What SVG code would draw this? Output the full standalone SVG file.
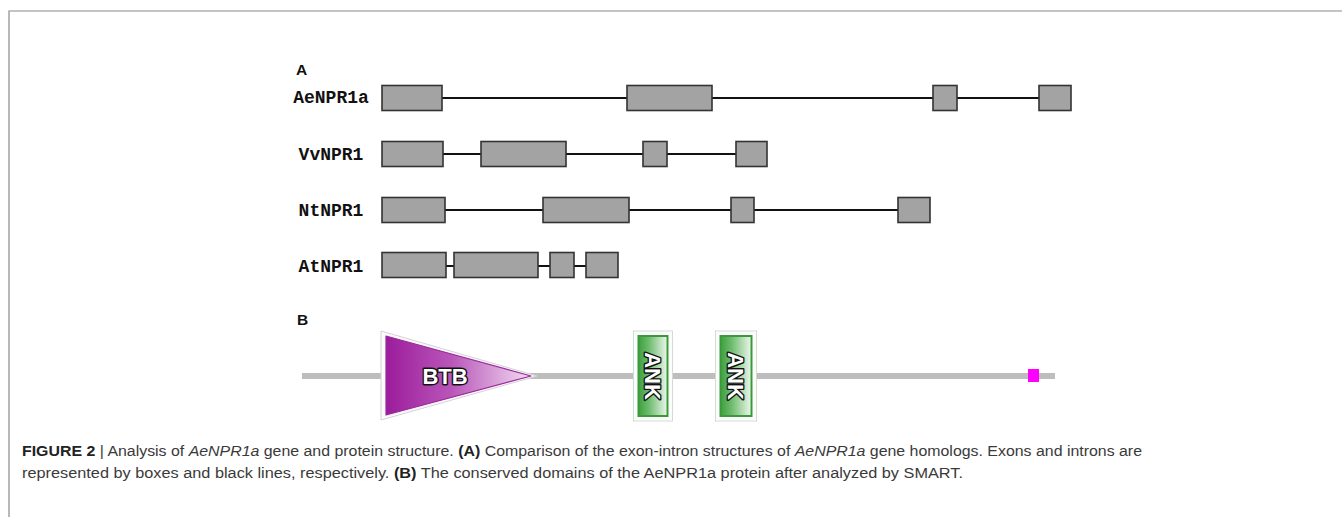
<svg xmlns="http://www.w3.org/2000/svg" width="1342" height="517" viewBox="0 0 1342 517">
  <style>
    .panel { font-family: "Liberation Sans", Arial, sans-serif; font-weight: bold; font-size: 15.5px; fill: #111; }
    .gene { font-family: "Liberation Mono", "Courier New", monospace; font-weight: bold; font-size: 18px; fill: #111; text-anchor: middle; }
    .exon { fill: #a3a3a3; stroke: #333; stroke-width: 1.6; }
    .intron { stroke: #111; stroke-width: 2; fill: none; }
    .dom { font-family: "Liberation Sans", Arial, sans-serif; font-weight: bold; font-size: 22px; fill: #fff; stroke: #111; stroke-width: 2.8; paint-order: stroke; stroke-linejoin: round; text-anchor: middle; }
    .cap { font-family: "Liberation Sans", Arial, sans-serif; font-size: 15.5px; fill: #3a3a3a; }
    .frame { stroke: #8a8a8a; stroke-width: 1.2; fill: none; }
  </style>
  <defs>
    <linearGradient id="btbFill" x1="0" y1="0" x2="1" y2="0">
      <stop offset="0" stop-color="#9c1c9c"/>
      <stop offset="0.45" stop-color="#b956b9"/>
      <stop offset="1" stop-color="#f1dcf1"/>
    </linearGradient>
    <linearGradient id="ankFill" x1="0" y1="0" x2="1" y2="0">
      <stop offset="0" stop-color="#3f9f3f"/>
      <stop offset="0.35" stop-color="#6cbb6c"/>
      <stop offset="1" stop-color="#eef7ee"/>
    </linearGradient>
  </defs>

  <rect width="1342" height="517" fill="#fff"/>
  <!-- frame: top rule and left rule -->
  <path class="frame" d="M9 517 V11 H1342"/>

  <!-- panel A: exon-intron structures -->
  <text class="panel" x="296" y="74.5">A</text>

  <g id="connectors">
    <line class="intron" x1="442" y1="98" x2="627" y2="98"/>
    <line class="intron" x1="712" y1="98" x2="933" y2="98"/>
    <line class="intron" x1="957" y1="98" x2="1039" y2="98"/>

    <line class="intron" x1="443" y1="154" x2="481" y2="154"/>
    <line class="intron" x1="566" y1="154" x2="643" y2="154"/>
    <line class="intron" x1="667" y1="154" x2="736" y2="154"/>

    <line class="intron" x1="445" y1="210" x2="543" y2="210"/>
    <line class="intron" x1="629" y1="210" x2="731" y2="210"/>
    <line class="intron" x1="754" y1="210" x2="898" y2="210"/>

    <line class="intron" x1="446" y1="266" x2="454" y2="266"/>
    <line class="intron" x1="538" y1="266" x2="550" y2="266"/>
    <line class="intron" x1="574" y1="266" x2="586" y2="266"/>
  </g>

  <g id="AeNPR1a">
    <text class="gene" x="331" y="103">AeNPR1a</text>
    <rect class="exon" x="382" y="85.5" width="60" height="25"/>
    <rect class="exon" x="627" y="85.5" width="85" height="25"/>
    <rect class="exon" x="933" y="85.5" width="24" height="25"/>
    <rect class="exon" x="1039" y="85.5" width="32" height="25"/>
  </g>

  <g id="VvNPR1">
    <text class="gene" x="331" y="160">VvNPR1</text>
    <rect class="exon" x="382" y="141.5" width="61" height="25"/>
    <rect class="exon" x="481" y="141.5" width="85" height="25"/>
    <rect class="exon" x="643" y="141.5" width="24" height="25"/>
    <rect class="exon" x="736" y="141.5" width="31" height="25"/>
  </g>

  <g id="NtNPR1">
    <text class="gene" x="331" y="216">NtNPR1</text>
    <rect class="exon" x="382" y="197.5" width="63" height="25"/>
    <rect class="exon" x="543" y="197.5" width="86" height="25"/>
    <rect class="exon" x="731" y="197.5" width="23" height="25"/>
    <rect class="exon" x="898" y="197.5" width="32" height="25"/>
  </g>

  <g id="AtNPR1">
    <text class="gene" x="331" y="272">AtNPR1</text>
    <rect class="exon" x="382" y="252.5" width="64" height="25"/>
    <rect class="exon" x="454" y="252.5" width="84" height="25"/>
    <rect class="exon" x="550" y="252.5" width="24" height="25"/>
    <rect class="exon" x="586" y="252.5" width="32" height="25"/>
  </g>

  <!-- panel B: protein domains -->
  <text class="panel" x="297" y="324.5">B</text>

  <g id="backbone">
    <rect x="302" y="373" width="753" height="6" fill="#bdbdbd"/>
  </g>

  <g id="BTB">
    <polygon points="381,331 537,376 381,420" fill="#fdfafd" stroke="#d6d0d6" stroke-width="1"/>
    <polygon points="386,336 531,376 386,415" fill="url(#btbFill)" stroke="#9a2a9a" stroke-width="1.2" stroke-linejoin="round"/>
    <text class="dom" x="445" y="384">BTB</text>
  </g>

  <g id="ANK1">
    <rect x="633.5" y="331" width="39" height="90" fill="#fbfdfb" stroke="#d3dcd3" stroke-width="1"/>
    <rect x="638.5" y="336" width="29" height="80" fill="url(#ankFill)" stroke="#3a9a3a" stroke-width="2"/>
    <text class="dom" transform="translate(653 376) rotate(90)" x="0" y="8">ANK</text>
  </g>

  <g id="ANK2">
    <rect x="715.5" y="331" width="41" height="90" fill="#fbfdfb" stroke="#d3dcd3" stroke-width="1"/>
    <rect x="720.5" y="336" width="31" height="80" fill="url(#ankFill)" stroke="#3a9a3a" stroke-width="2"/>
    <text class="dom" transform="translate(736 376) rotate(90)" x="0" y="8">ANK</text>
  </g>

  <g id="motif">
    <rect x="1028" y="369" width="11" height="13" fill="#ff00ff"/>
  </g>

  <!-- caption -->
  <text class="cap" x="22" y="456" textLength="1120" lengthAdjust="spacingAndGlyphs"><tspan font-weight="bold" fill="#222">FIGURE 2</tspan> | Analysis of <tspan font-style="italic">AeNPR1a</tspan> gene and protein structure. <tspan font-weight="bold" fill="#222">(A)</tspan> Comparison of the exon-intron structures of <tspan font-style="italic">AeNPR1a</tspan> gene homologs. Exons and introns are</text>
  <text class="cap" x="22" y="478" textLength="941" lengthAdjust="spacingAndGlyphs">represented by boxes and black lines, respectively. <tspan font-weight="bold" fill="#222">(B)</tspan> The conserved domains of the AeNPR1a protein after analyzed by SMART.</text>
</svg>
